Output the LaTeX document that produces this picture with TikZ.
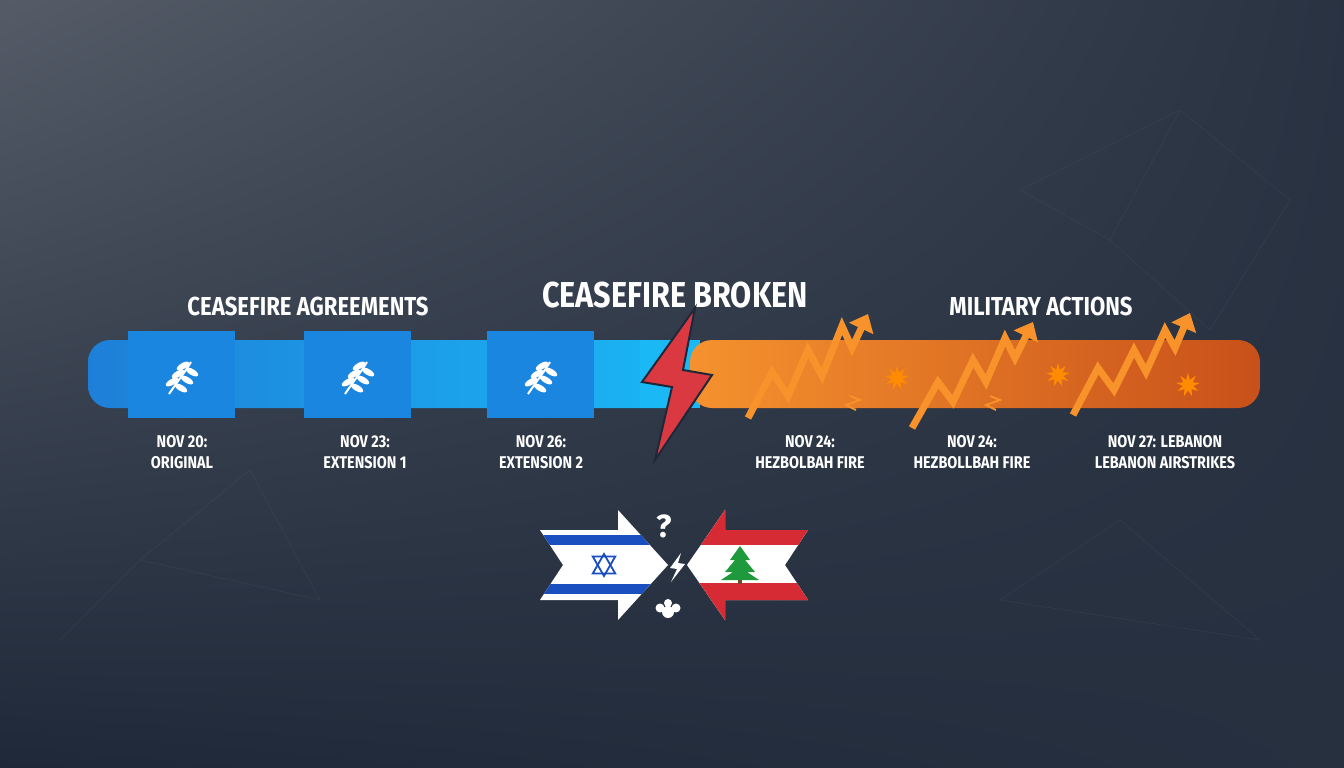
\documentclass[tikz,border=0pt]{standalone}
\usepackage{fontspec}
\setmainfont{Fira Sans}
\usetikzlibrary{shapes.geometric,arrows.meta,calc,shadings}
\definecolor{bgA}{HTML}{555C68}
\definecolor{bgB}{HTML}{1E2838}
\definecolor{blueA}{HTML}{1E7FD8}
\definecolor{blueB}{HTML}{1AB8F5}
\definecolor{orA}{HTML}{F5922E}
\definecolor{orB}{HTML}{C8501A}
\definecolor{boxblue}{HTML}{1A86E0}
\definecolor{zig}{HTML}{F7932A}
\definecolor{ilblue}{HTML}{1A4FC0}
\definecolor{lbred}{HTML}{D62A34}
\definecolor{cedar}{HTML}{1E9A3C}
\tikzset{
  title/.style={text=white,font=\bfseries\fontsize{26}{28}\selectfont,xscale=0.85},
  bigtitle/.style={text=white,font=\bfseries\fontsize{36}{38}\selectfont,xscale=0.85},
  date/.style={text=white,font=\bfseries\fontsize{17}{21}\selectfont,align=center,xscale=0.85},
  sq/.style={fill=boxblue,minimum width=107pt,minimum height=87pt,inner sep=0pt},
  zz/.style={draw=zig,line width=7pt,-{Triangle[length=16pt,width=26pt]}},
  net/.style={draw=white,opacity=0.04,line width=0.8pt},
  lf/.style={fill=white}
}
\newcommand{\leaf}[2]{%
  \begin{scope}[shift={(#1,#2)}]
    \draw[white,line width=2pt] (-12,16) .. controls (-4,4) and (4,-6) .. (10,-16);
    \fill[lf,rotate around={30:(-9,4)}] (-9,4) ellipse (7 and 3);
    \fill[lf,rotate around={30:(-3,-4)}] (-3,-4) ellipse (7 and 3);
    \fill[lf,rotate around={30:(2,-12)}] (2,-12) ellipse (7 and 3);
    \fill[lf,rotate around={-30:(0,10)}] (0,10) ellipse (7 and 3);
    \fill[lf,rotate around={-30:(6,2)}] (6,2) ellipse (7 and 3);
    \fill[lf,rotate around={-30:(11,-6)}] (11,-6) ellipse (7 and 3);
  \end{scope}}
\newcommand{\burst}[2]{%
  \node[star,star points=9,star point ratio=2.2,fill=orange!90!yellow,minimum size=24pt,inner sep=0pt] at (#1,#2) {};}
\begin{document}
\begin{tikzpicture}[x=1pt,y=-1pt]
\useasboundingbox (0,0) rectangle (1344,768);
\shade[upper left=bgA,upper right=bgB!80!bgA,lower left=bgB,lower right=bgB!85!bgA] (0,0) rectangle (1344,768);
% faint network
\draw[net] (1110,240)--(1180,110)--(1290,200)--(1210,330)--(1110,240)--(1020,190)--(1180,110);
\draw[net] (60,640)--(140,560)--(250,470)--(320,600)--(140,560);
\draw[net] (1000,600)--(1120,520)--(1260,640)--(1000,600);
% bar
\shade[left color=blueA,right color=blueB,rounded corners=22pt] (88,340) rectangle (700,408);
\fill[blueB] (640,340) rectangle (700,408);
\shade[left color=orA,right color=orB,rounded corners=22pt] (690,340) rectangle (1260,408);
% titles
\node[title] (t1) at (308,306) {CEASEFIRE AGREEMENTS};
\node[bigtitle] (t2) at (675,295) {CEASEFIRE BROKEN};
\node[title] (t3) at (1041,306) {MILITARY ACTIONS};
% squares
\node[sq] (s1) at (181,374) {};
\node[sq] (s2) at (357,374) {};
\node[sq] (s3) at (540,374) {};
\leaf{181}{378}\leaf{357}{378}\leaf{540}{378}
% lightning
\fill[lbred!90!pink,draw=bgB,line width=2pt] (695,308)--(642,382)--(672,387)--(655,460)--(712,375)--(683,370)--cycle;
% zigzags
\draw[zz] (748,418)--(772,372)--(788,396)--(808,350)--(822,376)--(842,326)--(852,348)--(868,314);
\draw[zz] (912,428)--(938,382)--(953,402)--(973,360)--(986,382)--(1005,338)--(1015,358)--(1033,322);
\draw[zz] (1073,415)--(1098,368)--(1114,390)--(1134,350)--(1146,372)--(1165,330)--(1175,348)--(1190,313);
\burst{897}{378}\burst{1058}{375}\burst{1188}{385}
\draw[zig,line width=1.8pt] (850,396)--(860,400)--(846,405)--(856,410);
\draw[zig,line width=1.8pt] (990,396)--(1000,400)--(986,405)--(996,410);
% dates
\node[date] (d1) at (182,452) {NOV 20:\\ORIGINAL};
\node[date] (d2) at (365,452) {NOV 23:\\EXTENSION 1};
\node[date] (d3) at (541,452) {NOV 26:\\EXTENSION 2};
\node[date] (d4) at (810,452) {NOV 24:\\HEZBOLBAH FIRE};
\node[date] (d5) at (972,452) {NOV 24:\\HEZBOLLBAH FIRE};
\node[date] (d6) at (1165,452) {NOV 27: LEBANON\\LEBANON AIRSTRIKES};
% Israel arrow
\fill[white] (540,530)--(618,530)--(618,510)--(668,565)--(618,620)--(618,600)--(540,600)--(563,565)--cycle;
\begin{scope}
\clip (540,530)--(618,530)--(618,510)--(668,565)--(618,620)--(618,600)--(540,600)--(563,565)--cycle;
\fill[ilblue] (530,535) rectangle (680,545);
\fill[ilblue] (530,584) rectangle (680,594);
\end{scope}
\node[regular polygon,regular polygon sides=3,draw=ilblue,line width=1.8pt,minimum size=26pt,inner sep=0pt] (st1) at (604,567) {};
\node[regular polygon,regular polygon sides=3,draw=ilblue,line width=1.8pt,minimum size=26pt,inner sep=0pt,rotate=180] (st2) at (604,563) {};
% Lebanon arrow
\fill[white] (808,530)--(725,530)--(725,510)--(687,565)--(725,620)--(725,600)--(808,600)--(785,565)--cycle;
\begin{scope}
\clip (808,530)--(725,530)--(725,510)--(687,565)--(725,620)--(725,600)--(808,600)--(785,565)--cycle;
\fill[lbred] (680,500) rectangle (820,545);
\fill[lbred] (680,583) rectangle (820,630);
\end{scope}
\fill[cedar] (740,546)--(750,560)--(745,560)--(755,572)--(747,572)--(759,580)--(721,580)--(733,572)--(725,572)--(735,560)--(730,560)--cycle;
\fill[brown!60!black] (738,580) rectangle (742,584);
% centre symbols
\node[text=white,font=\bfseries\fontsize{32}{32}\selectfont] (q) at (664,526) {?};
\fill[white] (681,553)--(670,568)--(677,569)--(671,582)--(685,564)--(678,563)--cycle;
\fill[white] (668,612) circle (6) (660,608) circle (4.5) (676,608) circle (4.5) (668,603) circle (4);
\end{tikzpicture}
\end{document}
